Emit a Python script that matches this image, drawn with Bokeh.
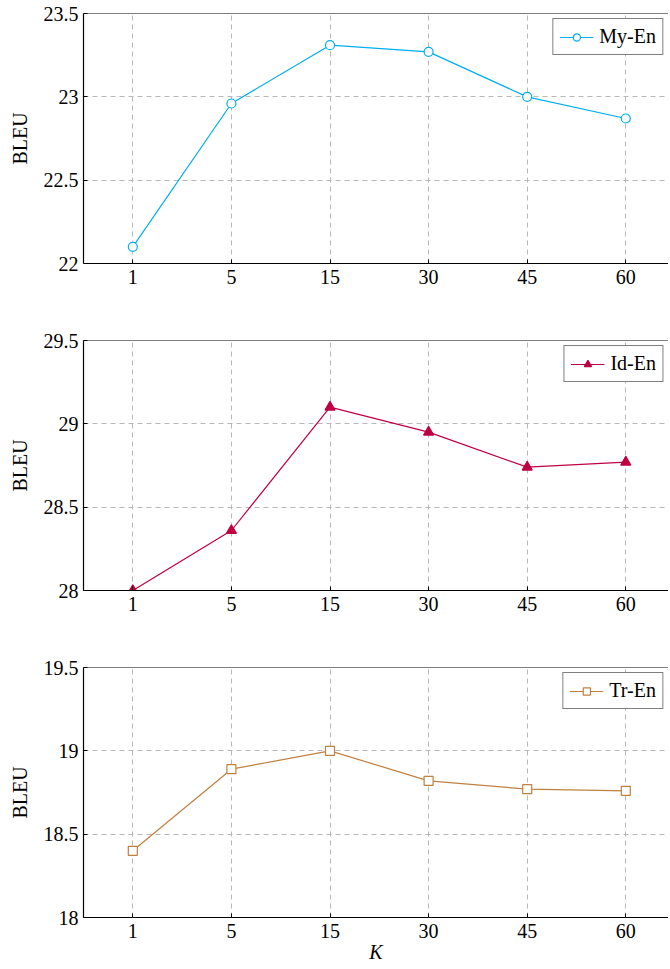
from bokeh.plotting import figure
from bokeh.layouts import column
from bokeh.models import FixedTicker, Span, ColumnDataSource
from bokeh.embed import file_html
from bokeh.resources import INLINE

# ---- data ----
k_labels = ["1", "5", "15", "30", "45", "60"]
my_en = [22.10, 22.96, 23.31, 23.27, 23.00, 22.87]
id_en = [28.00, 28.36, 29.10, 28.95, 28.74, 28.77]
tr_en = [18.40, 18.89, 19.00, 18.82, 18.77, 18.76]

my_ticks = [22, 22.5, 23, 23.5]
my_tick_labels = ["22", "22.5", "23", "23.5"]
id_ticks = [28, 28.5, 29, 29.5]
id_tick_labels = ["28", "28.5", "29", "29.5"]
tr_ticks = [18, 18.5, 19, 19.5]
tr_tick_labels = ["18", "18.5", "19", "19.5"]

FONT = "Liberation Serif"
FS = "20px"
W = 668
x_idx = list(range(len(k_labels)))


def make_panel(values, ticks, tick_labels, name, color, marker, filled, height, top, bottom, xlabel=None):
    p = figure(width=W, height=height, output_backend="svg", toolbar_location=None,
               x_range=(-0.5, 5.433), y_range=(ticks[0], ticks[-1]),
               min_border_left=83, min_border_right=0, min_border_top=top,
               min_border_bottom=bottom)
    p.outline_line_color = None
    p.background_fill_color = "white"
    p.border_fill_color = "white"

    # axes
    p.xaxis.ticker = FixedTicker(ticks=x_idx)
    p.xaxis.major_label_overrides = {i: lab for i, lab in zip(x_idx, k_labels)}
    p.yaxis.ticker = FixedTicker(ticks=ticks)
    p.yaxis.major_label_overrides = {t: lab for t, lab in zip(ticks, tick_labels)}
    for ax in (p.xaxis[0], p.yaxis[0]):
        ax.axis_line_color = "black"
        ax.axis_line_width = 1.2
        ax.major_tick_in = 4
        ax.major_tick_out = 0
        ax.major_tick_line_color = "black"
        ax.minor_tick_line_color = None
        ax.major_label_text_font = FONT
        ax.major_label_text_font_size = FS
        ax.major_label_text_color = "black"
    p.xaxis.major_label_standoff = 6
    p.yaxis.major_label_standoff = 5
    p.yaxis.axis_label = "BLEU"
    p.yaxis.axis_label_text_font = FONT
    p.yaxis.axis_label_text_font_size = FS
    p.yaxis.axis_label_text_font_style = "normal"
    p.yaxis.axis_label_text_color = "black"
    p.yaxis.axis_label_standoff = 10
    if xlabel:
        p.xaxis.axis_label = xlabel
        p.xaxis.axis_label_text_font = FONT
        p.xaxis.axis_label_text_font_size = FS
        p.xaxis.axis_label_text_font_style = "italic"
        p.xaxis.axis_label_text_color = "black"
        p.xaxis.axis_label_standoff = 0

    # top border
    p.add_layout(Span(location=ticks[-1], dimension="width", line_color="black", line_width=1.2))

    # grid
    for g in (p.xgrid[0], p.ygrid[0]):
        g.grid_line_color = "#b8b8b8"
        g.grid_line_dash = "5 4"
        g.grid_line_width = 1
    p.xgrid.ticker = FixedTicker(ticks=x_idx)
    p.ygrid.ticker = FixedTicker(ticks=ticks)

    src = ColumnDataSource(dict(x=x_idx, y=values))
    p.line("x", "y", source=src, line_color=color, line_width=1.2, legend_label=name)
    size = 10 if marker == "triangle" else 9
    p.scatter("x", "y", source=src, marker=marker, size=size, line_color=color,
              line_width=1.2, fill_color=color if filled else "white", legend_label=name)

    lg = p.legend[0]
    lg.location = "top_right"
    lg.margin = 5
    lg.border_line_color = "black"
    lg.border_line_width = 1
    lg.background_fill_alpha = 1
    lg.label_text_font = FONT
    lg.label_text_font_size = FS
    lg.label_text_color = "black"
    lg.glyph_width = 34
    lg.glyph_height = 18
    lg.label_height = 18
    lg.padding = 6
    lg.spacing = 0
    lg.label_standoff = 6
    return p


p1 = make_panel(my_en, my_ticks, my_tick_labels, "My-En", "#00AEEF", "circle", False, 323, 13, 60)
p2 = make_panel(id_en, id_ticks, id_tick_labels, "Id-En", "#BF0040", "triangle", True, 327, 17, 60)
p3 = make_panel(tr_en, tr_ticks, tr_tick_labels, "Tr-En", "#BF8040", "square", False, 317, 17, 50, xlabel="K")

layout = column(p1, p2, p3, spacing=0)
open("out.html", "w").write(file_html(layout, INLINE))
